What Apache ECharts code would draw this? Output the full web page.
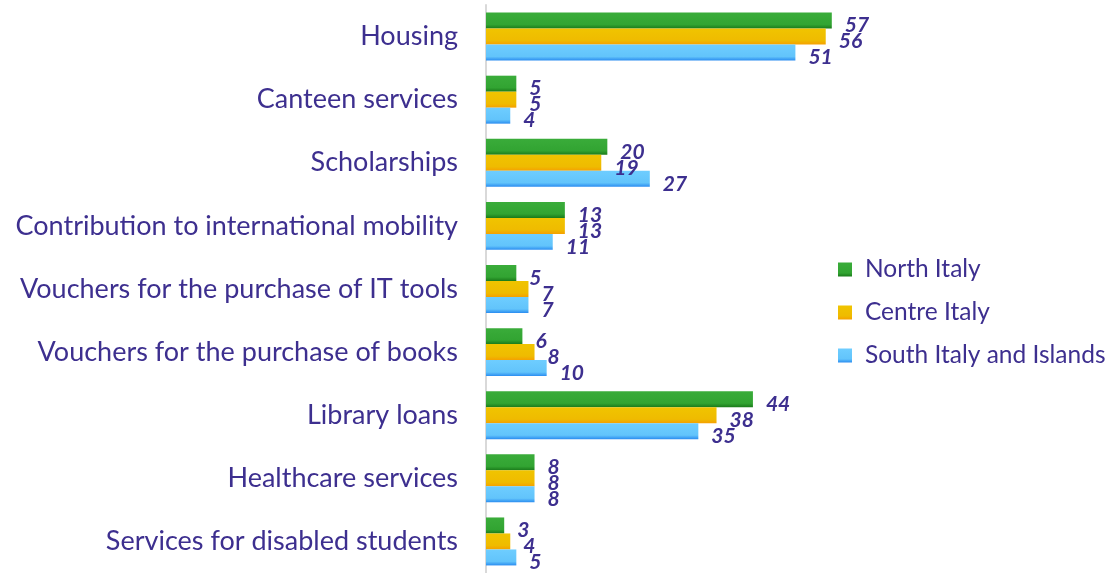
<!DOCTYPE html>
<html>
<head>
<meta charset="utf-8">
<script src="https://cdn.jsdelivr.net/npm/echarts@6/dist/echarts.min.js"></script>
<style>html,body{margin:0;padding:0;background:#fff;}#c{width:1114px;height:573px;}</style>
</head>
<body>
<div id="c"></div>
<script>
const categories = ["Housing","Canteen services","Scholarships","Contribution to international mobility","Vouchers for the purchase of IT tools","Vouchers for the purchase of books","Library loans","Healthcare services","Services for disabled students"];
const seriesNames = ["North Italy","Centre Italy","South Italy and Islands"];
const north = [57,5,20,13,5,6,44,8,3];
const centre = [56,5,19,13,7,8,38,8,4];
const south = [51,4,27,11,7,10,35,8,5];

const textColor = '#3d2f8f';
function grad(top, mid, bottom){
  return new echarts.graphic.LinearGradient(0,0,0,1,[
    {offset:0,color:top},{offset:0.75,color:mid},{offset:1,color:bottom}
  ]);
}
const fills = [
  grad('#3aac3a','#32a432','#1a7a1a'),
  grad('#f0c400','#efbb00','#f5a000'),
  grad('#6ecdff','#62c4fb','#2a8cf0')
];
const datasets = [north, centre, south];
const chart = echarts.init(document.getElementById('c'));
chart.setOption({
  animation:false,
  backgroundColor:'#fff',
  legend:{
    orient:'vertical', left:833, top:252, itemGap:18, itemWidth:14, itemHeight:14,
    icon:'rect',
    textStyle:{color:textColor, fontFamily:'Lato', fontSize:24.5, padding:[0,0,0,8]},
    data:seriesNames
  },
  grid:{left:486, top:5, width:364, height:575},
  xAxis:{type:'value', min:0, max:60, show:false},
  yAxis:{type:'category', data:categories, inverse:true,
    axisLine:{show:true, lineStyle:{color:'#d9d9d9', width:2}},
    axisTick:{show:false},
    axisLabel:{color:textColor, fontFamily:'Lato', fontSize:27, margin:28}
  },
  series: seriesNames.map((n,i)=>({
    name:n, type:'bar', data:datasets[i],
    barGap:'0%', barCategoryGap:'24%',
    itemStyle:{color:fills[i]},
    label:{show:true, position:'right', distance:13, offset:[0,5],
      color:textColor, fontFamily:'Lato', fontSize:21, fontWeight:'bold', fontStyle:'italic'}
  }))
});
</script>
</body>
</html>
